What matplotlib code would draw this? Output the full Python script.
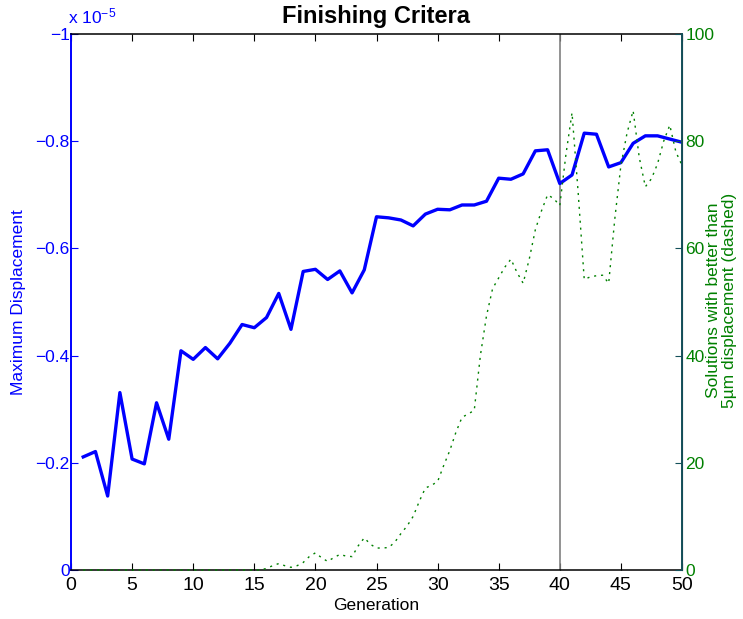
import matplotlib
matplotlib.use("Agg")
import matplotlib.pyplot as plt
import numpy as np
from matplotlib.ticker import FuncFormatter

plt.rcParams['font.family'] = ['Liberation Sans', 'DejaVu Sans']
plt.rcParams['mathtext.fontset'] = 'custom'
plt.rcParams['mathtext.rm'] = 'Liberation Sans'
plt.rcParams['mathtext.it'] = 'Liberation Sans'

# maximum displacement per generation, in units of 1e-5
generation = np.arange(1, 51)
max_disp = -np.array([
    0.211, 0.221, 0.138, 0.331, 0.207, 0.198, 0.312, 0.244, 0.409, 0.393,
    0.415, 0.394, 0.423, 0.458, 0.452, 0.471, 0.516, 0.449, 0.557, 0.561,
    0.542, 0.558, 0.517, 0.560, 0.659, 0.657, 0.653, 0.642, 0.664, 0.673,
    0.672, 0.681, 0.681, 0.688, 0.731, 0.729, 0.739, 0.782, 0.784, 0.721,
    0.737, 0.815, 0.813, 0.752, 0.760, 0.796, 0.810, 0.810, 0.804, 0.798])

# solutions better than 5um, read every half generation (1 .. 50)
gen_half = np.arange(1, 50.5, 0.5)
solutions = [0.0] * 30 + [
    0.3, 0.8, 1.2, 0.8, 0.5, 0.8, 1.4, 2.5, 3.2,
    2.3, 1.6, 2.3, 2.9, 2.6, 2.5, 4.5, 6.0, 4.8, 4.1,
    4.1, 4.2, 5.2, 6.8, 8.2, 10.0, 12.8, 15.3, 15.8, 16.5,
    19.5, 22.3, 25.7, 28.5, 29.1, 29.8, 40.0, 47.4, 52.5, 54.5,
    56.5, 58.0, 55.5, 53.5, 58.0, 63.5, 67.0, 70.0, 69.3, 68.0,
    77.5, 85.3, 70.5, 54.2, 54.7, 54.9, 55.0, 53.5, 65.5, 75.5,
    81.5, 85.7, 77.0, 71.5, 73.0, 75.8, 80.0, 83.0, 78.0, 75.5]

finish_gen = 40
scale_exp = -5

W, H = 743, 619
fig = plt.figure(figsize=(W / 100, H / 100), dpi=100)
ax = fig.add_axes([71 / W, 49 / H, 611 / W, 536 / H])
ax2 = ax.twinx()

ax.plot(generation, max_disp, color='#0000ff', lw=2.4, zorder=3)
ax2.plot(gen_half, solutions, color='#008000', lw=1.0, ls=(0, (1.5, 3.5)),
         dash_capstyle='butt', clip_on=False)
ax.axvline(finish_gen, color='#808080', lw=1.2)

ax.set_xlim(0, 50)
ax.set_ylim(0, -1)
ax2.set_ylim(0, 100)
ax.set_xticks(np.arange(0, 51, 5))
ax.set_yticks(np.arange(-1, 0.01, 0.2))
ax2.set_yticks(np.arange(0, 101, 20))

def fmt(v, pos):
    if abs(v) < 1e-9:
        return '0'
    return ('%g' % round(v, 1)).replace('-', '\u2212')

ax.yaxis.set_major_formatter(FuncFormatter(fmt))

ax.tick_params(axis='x', direction='in', length=5, top=True, labelsize=14,
               colors='black', pad=5)
ax.tick_params(axis='y', direction='in', length=5, colors='#0000ff',
               labelsize=12.5, pad=1)
ax2.tick_params(axis='y', direction='in', length=5, color='#14505a',
                labelcolor='#008000', labelsize=12.5, pad=2.5)

ax.spines['left'].set_color('#0000ff')
ax.spines['left'].set_linewidth(1.4)
for s in ['top', 'bottom']:
    ax.spines[s].set_linewidth(1.1)
ax2.spines['right'].set_color('#14505a')
ax2.spines['right'].set_linewidth(1.4)
ax2.spines['left'].set_visible(False)
ax2.spines['top'].set_visible(False)
ax2.spines['bottom'].set_visible(False)

# labels and title placed at the reference's pixel positions
fig.text(376.5 / W, 1 - 605 / H, 'Generation', fontsize=12.5,
         ha='center', va='center')
fig.text(19 / W, 1 - 302 / H, 'Maximum Displacement', fontsize=12.5,
         color='#0000ff', rotation=90, ha='center', va='center')
fig.text(721.5 / W, 1 - 300 / H,
         'Solutions with better than\n5\u00b5m displacement (dashed)',
         fontsize=12.5, color='#008000', rotation=90, ha='center',
         va='center', multialignment='center', linespacing=1.05)
fig.text(376.5 / W, 1 - 16 / H, 'Finishing Critera', fontsize=17,
         fontweight='bold', ha='center', va='center')
fig.text(68 / W, 1 - 23 / H, 'x 10$^{%d}$' % scale_exp, color='#0000ff',
         fontsize=12.5, ha='left', va='baseline')

fig.savefig('out.png', dpi=100)
